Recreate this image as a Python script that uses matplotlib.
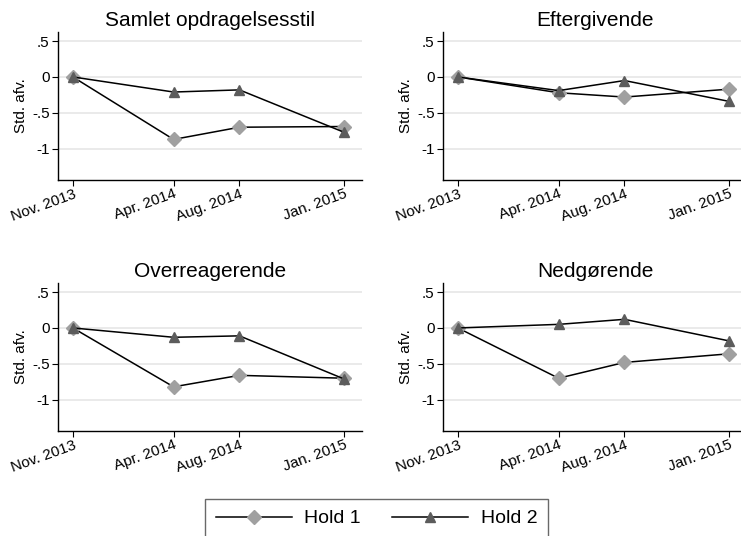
import matplotlib
matplotlib.use('Agg')
import matplotlib.pyplot as plt
from matplotlib.lines import Line2D

plt.rcParams['font.family'] = ['Liberation Sans', 'DejaVu Sans']

# maaneder efter nov. 2013 (ca.)
maaneder = [0, 5.2, 8.6, 14]
tidspunkter = ['Nov. 2013', 'Apr. 2014', 'Aug. 2014', 'Jan. 2015']

titler = ['Samlet opdragelsesstil', 'Eftergivende', 'Overreagerende', 'Nedgørende']

hold1_samlet = [0, -0.87, -0.70, -0.69]
hold2_samlet = [0, -0.21, -0.18, -0.77]
hold1_efter = [0, -0.22, -0.28, -0.17]
hold2_efter = [0, -0.19, -0.05, -0.34]
hold1_over = [0, -0.82, -0.66, -0.70]
hold2_over = [0, -0.13, -0.11, -0.71]
hold1_ned = [0, -0.70, -0.48, -0.36]
hold2_ned = [0, 0.05, 0.12, -0.18]

hold1 = [hold1_samlet, hold1_efter, hold1_over, hold1_ned]
hold2 = [hold2_samlet, hold2_efter, hold2_over, hold2_ned]

farve1 = '#a0a0a0'
farve2 = '#5c5c5c'

fig = plt.figure(figsize=(7.41, 5.36), dpi=100)

W, H = 741.0, 536.0
positioner = [(58, 32), (443, 32), (58, 283), (443, 283)]
bredde = 304
hoejde = 148

for i in range(4):
    x0, y0 = positioner[i]
    ax = fig.add_axes([x0 / W, 1 - (y0 + hoejde) / H, bredde / W, hoejde / H])
    ax.plot(maaneder, hold1[i], color='black', lw=1.1, marker='D', ms=7,
            mfc=farve1, mec=farve1, zorder=3)
    ax.plot(maaneder, hold2[i], color='black', lw=1.1, marker='^', ms=7.5,
            mfc=farve2, mec=farve2, zorder=3)

    ax.set_xlim(-0.77, 14.93)
    ax.set_ylim(-1.435, 0.626)
    ax.set_yticks([0.5, 0, -0.5, -1])
    ax.set_yticklabels(['.5', '0', '-.5', '-1'], fontsize=11)
    ax.set_xticks(maaneder)
    ax.set_xticklabels(tidspunkter, fontsize=11, rotation=20, ha='right',
                       rotation_mode='anchor')
    ax.tick_params(axis='both', length=4, width=0.8, color='black', pad=2)
    ax.tick_params(axis='x', pad=1)
    ax.yaxis.grid(True, color='#e6e6e6', lw=1.2)
    ax.set_axisbelow(True)
    for s in ['top', 'right']:
        ax.spines[s].set_visible(False)
    for s in ['left', 'bottom']:
        ax.spines[s].set_linewidth(1.0)
    ax.set_ylabel('Std. afv.', fontsize=11, labelpad=3)
    ax.set_title(titler[i], fontsize=15, pad=4)

h1 = Line2D([], [], color='black', lw=1.1, marker='D', ms=7, mfc=farve1, mec=farve1)
h2 = Line2D([], [], color='black', lw=1.1, marker='^', ms=7.5, mfc=farve2, mec=farve2)
leg = fig.legend([h1, h2], ['Hold 1', 'Hold 2'], loc='lower center',
                 bbox_to_anchor=(376.5 / W, -2 / H), ncol=2, fontsize=14,
                 frameon=True, fancybox=False, handlelength=3.9,
                 handletextpad=0.65, columnspacing=1.6, borderpad=0.55,
                 borderaxespad=0)
leg.get_frame().set_edgecolor('#444444')
leg.get_frame().set_linewidth(1.0)

fig.savefig('out.png', dpi=100)
